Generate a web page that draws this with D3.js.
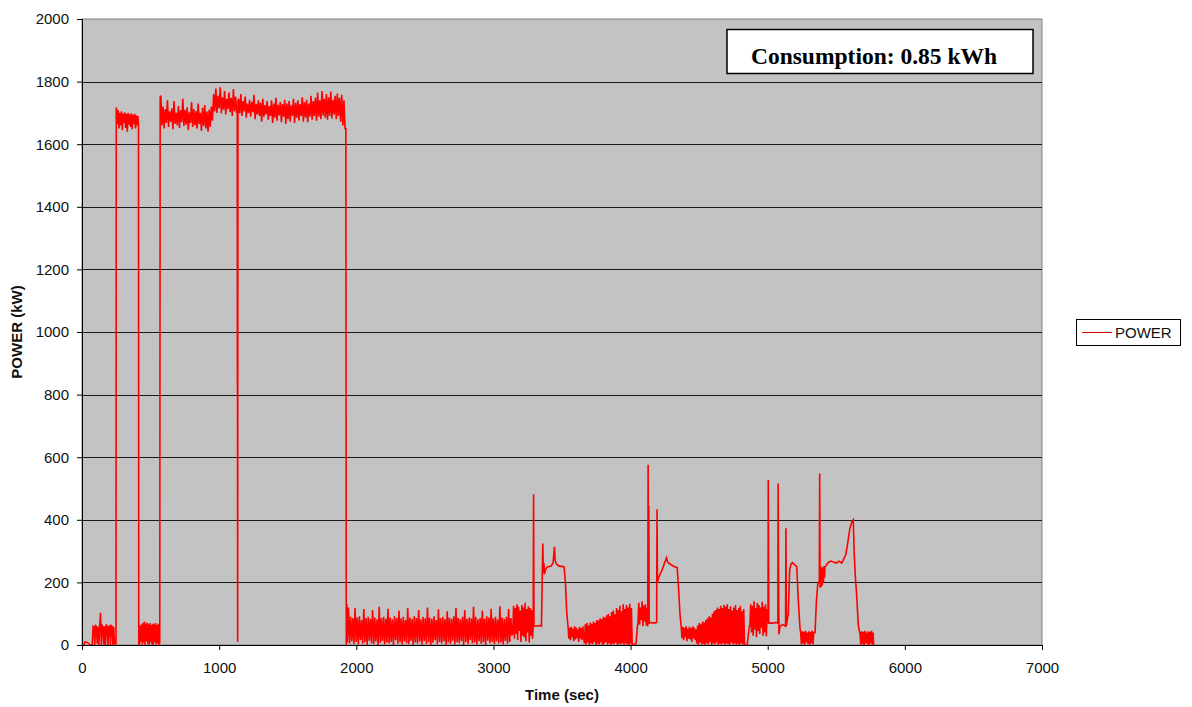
<!DOCTYPE html>
<html>
<head>
<meta charset="utf-8">
<script src="https://cdn.jsdelivr.net/npm/d3@7"></script>
<style>
  body { margin: 0; background: #fff; }
  text { font-family: "Liberation Sans", Arial, sans-serif; }
</style>
</head>
<body>
<div id="chart"></div>
<script>
// ---- data (time in sec, power in kW) ----
const yTicks = [0, 200, 400, 600, 800, 1000, 1200, 1400, 1600, 1800, 2000]
const xTicks = [0, 1000, 2000, 3000, 4000, 5000, 6000, 7000]
const seriesName = "POWER"
const consumption = "Consumption: 0.85 kWh"

// explicit points: [time, power]
const startPoints = [[0, 0], [15, 0], [20, 10], [40, 8], [60, 0], [70, 0]]
const idleA = [2, 60, 58, 0, 62, 60, 4, 58, 0, 60, 103, 0, 62, 58, 2, 60, 0, 64, 62, 0, 58, 60, 0, 62, 60, 0, 58, 3]
const run1 = [1715, 1665, 1708, 1650, 1700, 1660, 1705, 1645, 1698, 1668, 1702, 1652, 1696, 1640, 1700, 1662, 1695, 1655, 1699, 1648, 1694, 1665, 1697, 1650, 1692, 1660, 1690]
const idleB = [5, 62, 10, 66, 2, 70, 8, 75, 0, 68, 12, 72, 4, 66, 0, 70, 9, 64, 3, 68, 0, 66, 10, 70, 2, 64, 6, 68, 0, 62]
const run2 = [1755, 1660, 1720, 1650, 1712, 1668, 1740, 1655, 1705, 1672, 1715, 1648, 1738, 1665, 1700, 1660, 1722, 1652, 1708, 1670,
  1745, 1658, 1710, 1662, 1718, 1645, 1702, 1668, 1735, 1655, 1712, 1660, 1706, 1650, 1730, 1664, 1700, 1642, 1716, 1658,
  1725, 1650, 1704, 1640, 1710, 1655, 1720, 1675]
const run3a = [1760, 1705, 1778, 1700, 1755, 1715, 1782, 1698, 1750, 1710, 1770, 1695, 1745, 1712, 1765, 1702, 1748, 1690, 1776, 1705, 1752, 1700]
const dipPoints = [[1132, 1720], [1133, 830], [1134, 840], [1135, 10], [1137, 1740]]
const run3b = [1745, 1698, 1760, 1690, 1738, 1705, 1752, 1685, 1730, 1700,
  1742, 1688, 1735, 1702, 1758, 1680, 1728, 1695, 1740, 1690,
  1732, 1672, 1745, 1688, 1725, 1695, 1738, 1678, 1722, 1690,
  1740, 1668, 1730, 1685, 1748, 1675, 1726, 1692, 1735, 1670,
  1728, 1688, 1742, 1665, 1730, 1680, 1738, 1672, 1724, 1690,
  1745, 1668, 1732, 1685, 1740, 1676, 1728, 1690, 1750, 1672,
  1735, 1685, 1742, 1670, 1730, 1688, 1755, 1678, 1738, 1690,
  1748, 1675, 1765, 1688, 1740, 1680, 1770, 1692, 1745, 1685,
  1760, 1678, 1750, 1690, 1768, 1682, 1742, 1695, 1755, 1680,
  1762, 1690, 1748, 1672, 1758, 1660, 1740, 1650]
const stopPoints = [[1924, 1650], [1927, 0], [1931, 131]]
const cruiseC = [8, 120, 5, 90, 12, 85, 3, 118, 10, 88,
  2, 92, 15, 80, 4, 115, 9, 86, 0, 90,
  14, 84, 6, 112, 3, 88, 11, 82, 0, 122,
  7, 86, 13, 90, 2, 84, 8, 116, 5, 88,
  10, 82, 0, 92, 15, 86, 4, 110, 9, 85,
  2, 90, 12, 80, 6, 118, 3, 88, 14, 84,
  0, 92, 8, 86, 5, 112, 11, 82, 2, 90,
  13, 85, 4, 120, 9, 88, 0, 84, 7, 92,
  15, 80, 3, 114, 10, 86, 5, 90, 12, 83,
  0, 108, 8, 88, 4, 84, 14, 92, 2, 118,
  9, 86, 6, 82, 13, 90, 0, 112, 10, 84,
  3, 88, 15, 85, 5, 122, 8, 90, 2, 82,
  12, 86, 4, 110, 9, 84, 0, 92, 14, 88,
  6, 116, 10, 85, 3, 90, 12, 82, 5, 124,
  8, 88, 2, 84, 13, 90, 4, 115, 10, 86, 30]
const cruiseD = [40, 125, 20, 118, 35, 130, 15, 122, 45, 110, 10, 128, 30, 120, 25, 135, 12, 115, 40, 124, 8, 118, 30, 112, 20]
const humpE = [[3290, 60], [3293, 482], [3296, 60], [3340, 62], [3350, 60], [3360, 324], [3364, 230], [3368, 263], [3372, 226],
  [3380, 240], [3390, 248], [3400, 250], [3420, 252], [3435, 262], [3445, 314], [3450, 270], [3460, 258], [3480, 252],
  [3515, 250], [3525, 200], [3535, 100], [3545, 55]]
const idleF = [20, 55, 15, 58, 25, 52, 12, 60, 18, 56, 22, 50, 10, 58, 20, 54, 15, 60, 25]
const cruiseG = [5, 66, 2, 70, 8, 62, 0, 72, 6, 68,
  3, 75, 10, 70, 0, 80, 5, 78, 2, 85,
  8, 82, 0, 90, 4, 88, 10, 95, 2, 100,
  6, 92, 0, 105, 5, 110, 3, 98, 8, 118,
  0, 112, 4, 125, 2, 108, 6, 130, 0, 115,
  5, 128, 2, 120, 0, 132, 4, 118, 0]
const gapG = [[4016, 0], [4040, 5], [4050, 60]]
const cruiseH = [70, 135, 65, 120, 80, 140, 60, 125, 75, 130, 62, 118]
const humpI = [[4125, 60], [4128, 576], [4131, 70], [4133, 445], [4136, 70], [4150, 72], [4170, 70], [4190, 72], [4193, 434],
  [4196, 200], [4205, 215], [4215, 226], [4230, 240], [4250, 265], [4263, 279], [4270, 265], [4290, 258], [4320, 250],
  [4340, 247], [4350, 180], [4360, 100], [4370, 55]]
const idleJ = [22, 58, 15, 55, 25, 60, 12, 52, 20, 58, 18, 54, 10, 60, 22, 56, 15, 50]
const cruiseK = [5, 62, 0, 70, 8, 66, 2, 75, 4, 72,
  0, 80, 6, 85, 2, 92, 10, 88, 0, 100,
  5, 108, 2, 112, 8, 120, 0, 115, 4, 125,
  2, 118, 6, 128, 0, 122, 5, 130, 3, 115,
  0, 124, 8, 110, 2, 120, 5, 128, 0, 112,
  4, 118, 0, 125, 6, 108, 2, 115, 0]
const gapK = [[4835, 0], [4850, 0], [4866, 60]]
const cruiseL = [60, 130, 40, 125, 30, 140, 50, 118, 25, 135, 45, 128, 35, 120, 55, 138, 30, 122, 40, 130, 28, 115]
const humpM = [[5002, 70], [5004, 527], [5006, 300], [5008, 70], [5030, 70], [5060, 72], [5074, 70], [5076, 516], [5079, 226],
  [5082, 34], [5090, 60], [5110, 65], [5130, 60], [5133, 373], [5136, 60], [5150, 100], [5160, 240], [5170, 258],
  [5180, 263], [5200, 255], [5212, 250], [5222, 150], [5235, 55]]
const idleN = [40, 2, 44, 5, 42, 0, 45, 8, 40, 3, 44, 0, 42, 6, 45, 2, 40]
const climbPoints = [[5345, 40], [5355, 140], [5365, 194], [5376, 205], [5379, 548], [5382, 183]]
const climbO = [240, 185, 250, 190, 245, 200, 252, 215, 250]
const humpP = [[5425, 253], [5440, 263], [5460, 268], [5480, 265], [5500, 262], [5520, 268], [5540, 262], [5555, 275],
  [5570, 290], [5585, 330], [5600, 375], [5615, 395], [5624, 400], [5630, 300], [5638, 226], [5650, 150], [5660, 66], [5670, 40]]
const idleQ = [40, 0, 44, 4, 42, 0, 45, 6, 40, 2, 44, 0, 42, 5, 45, 0, 40]
const endPoints = [[5772, 0]]

// sampled blocks: values logged every dt seconds from t0
const sampled = (t0, dt, values) => values.map((v, i) => [t0 + i * dt, v])

const power = [].concat(
  startPoints,
  sampled(75, 6, idleA),
  [[248, 5], [250, 1715]],
  sampled(252, 6, run1),
  [[412, 1660], [414, 0]],
  sampled(420, 5, idleB),
  [[567, 5], [570, 1750]],
  sampled(575, 8, run2),
  sampled(960, 8, run3a),
  dipPoints,
  sampled(1142, 8, run3b),
  stopPoints,
  sampled(1935, 8, cruiseC),
  sampled(3141, 6, cruiseD),
  humpE,
  sampled(3550, 6, idleF),
  sampled(3664, 6, cruiseG),
  gapG,
  sampled(4054, 6, cruiseH),
  humpI,
  sampled(4375, 6, idleJ),
  sampled(4483, 6, cruiseK),
  gapK,
  sampled(4870, 6, cruiseL),
  humpM,
  sampled(5240, 6, idleN),
  climbPoints,
  sampled(5386, 4, climbO),
  humpP,
  sampled(5673, 6, idleQ),
  endPoints
)

// ---- layout ----
const W = 1192, H = 707
const plot = { left: 82, top: 19, right: 1042, bottom: 645 }

const svg = d3.select("#chart").append("svg")
  .attr("width", W)
  .attr("height", H)

const x = d3.scaleLinear().domain([0, 7000]).range([plot.left, plot.right])
const y = d3.scaleLinear().domain([0, 2000]).range([plot.bottom, plot.top])

// plot background
svg.append("rect")
  .attr("x", plot.left).attr("y", plot.top)
  .attr("width", plot.right - plot.left)
  .attr("height", plot.bottom - plot.top)
  .attr("fill", "#c3c3c3")
  .attr("stroke", "#808080")
  .attr("stroke-width", 1)

// gridlines
svg.append("g")
  .selectAll("line")
  .data(yTicks.filter(d => d > 0 && d < 2000))
  .enter().append("line")
  .attr("x1", plot.left).attr("x2", plot.right)
  .attr("y1", d => Math.round(y(d)) + 0.5)
  .attr("y2", d => Math.round(y(d)) + 0.5)
  .attr("stroke", "#1a1a1a")
  .attr("stroke-width", 1)

// the series
const line = d3.line()
  .x(d => x(d[0]))
  .y(d => y(d[1]))

svg.append("path")
  .datum(power)
  .attr("d", line)
  .attr("fill", "none")
  .attr("stroke", "#ff0000")
  .attr("stroke-width", 1.6)
  .attr("stroke-linejoin", "miter")

// axes
const yAxis = svg.append("g")
  .attr("transform", "translate(" + plot.left + ",0)")
  .call(d3.axisLeft(y).tickValues(yTicks).tickSize(5).tickPadding(8).tickFormat(d3.format("d")))
const xAxis = svg.append("g")
  .attr("transform", "translate(0," + plot.bottom + ")")
  .call(d3.axisBottom(x).tickValues(xTicks).tickSize(5).tickPadding(12).tickFormat(d3.format("d")))

for (const ax of [xAxis, yAxis]) {
  ax.select(".domain").attr("stroke", "#000")
  ax.selectAll(".tick line").attr("stroke", "#000")
  ax.selectAll(".tick text")
    .attr("fill", "#111")
    .attr("font-size", 15)
    .style("font-family", "'Liberation Sans', Arial, sans-serif")
}

// axis titles
svg.append("text")
  .attr("x", (plot.left + plot.right) / 2)
  .attr("y", 700)
  .attr("text-anchor", "middle")
  .attr("font-size", 15)
  .attr("font-weight", "bold")
  .attr("fill", "#111")
  .text("Time (sec)")

svg.append("text")
  .attr("transform", "translate(22," + (plot.top + plot.bottom) / 2 + ") rotate(-90)")
  .attr("text-anchor", "middle")
  .attr("font-size", 15)
  .attr("font-weight", "bold")
  .attr("fill", "#111")
  .text("POWER (kW)")

// consumption note
svg.append("rect")
  .attr("x", 727).attr("y", 29.5)
  .attr("width", 306).attr("height", 44)
  .attr("fill", "#fff")
  .attr("stroke", "#000")
  .attr("stroke-width", 1.5)

svg.append("text")
  .attr("x", 874).attr("y", 64)
  .attr("text-anchor", "middle")
  .attr("font-size", 23.5)
  .attr("font-weight", "bold")
  .style("font-family", "'Liberation Serif', 'Times New Roman', serif")
  .attr("fill", "#000")
  .text(consumption)

// legend
const legend = svg.append("g")
legend.append("rect")
  .attr("x", 1076.5).attr("y", 319.5)
  .attr("width", 104).attr("height", 26)
  .attr("fill", "#fff")
  .attr("stroke", "#000")
  .attr("stroke-width", 1)
legend.append("line")
  .attr("x1", 1082).attr("x2", 1112)
  .attr("y1", 332.5).attr("y2", 332.5)
  .attr("stroke", "#d00000")
  .attr("stroke-width", 1)
legend.append("text")
  .attr("x", 1115).attr("y", 338)
  .attr("font-size", 15)
  .attr("fill", "#111")
  .text(seriesName)
</script>
</body>
</html>
